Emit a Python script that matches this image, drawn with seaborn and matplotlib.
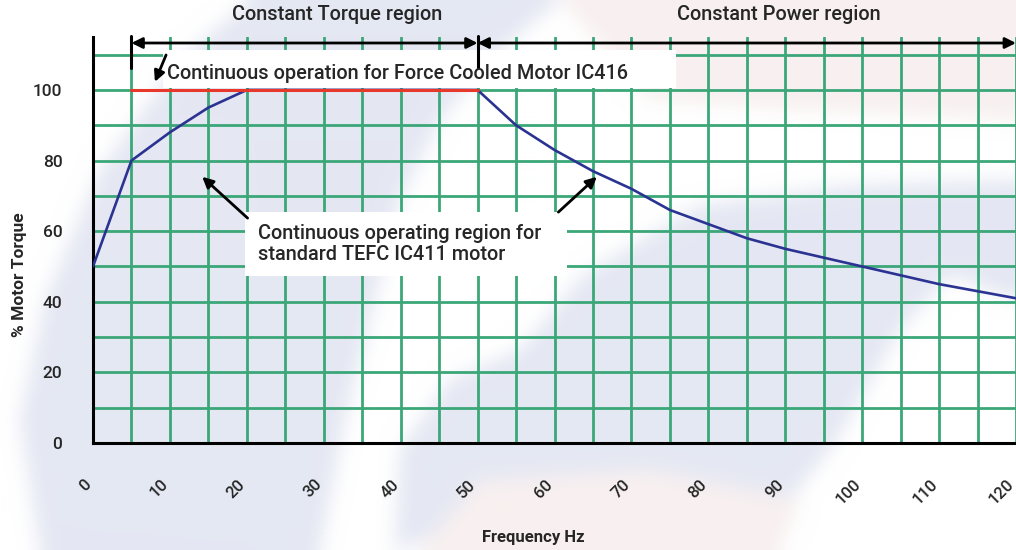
import numpy as np
import matplotlib
matplotlib.use("Agg")
import matplotlib.pyplot as plt
from matplotlib.patches import Rectangle
from matplotlib.path import Path
from matplotlib.transforms import ScaledTranslation
import seaborn as sns

# Motor torque capability versus drive output frequency
freq_hz = [0, 5, 10, 15, 20, 50, 55, 60, 65, 70, 75, 80, 85, 90, 95,
           100, 105, 110, 115, 120]
torque_pct = [50, 80, 88, 95, 100, 100, 90, 83, 77, 72, 66, 62, 58, 55, 52.5,
              50, 47.5, 45, 43, 41]

# Force-cooled (IC416) motor holds full torque over the whole constant-torque band
force_cooled_hz = [5, 50]
force_cooled_pct = [100, 100]

x_ticks = [0, 10, 20, 30, 40, 50, 60, 70, 80, 90, 100, 110, 120]
x_minor = [5, 15, 25, 35, 45, 55, 65, 75, 85, 95, 105, 115]
y_ticks = [0, 20, 40, 60, 80, 100]
y_minor = [10, 30, 50, 70, 90, 110]

torque_region = (5, 50)
power_region = (50, 120)

GREEN = "#3ba778"
BLUE = "#2b3392"
RED = "#e8372b"
LAVENDER = np.array([229, 232, 243]) / 255
PINK = np.array([248, 240, 240]) / 255

W, H = 1016, 550

sns.set_style("white")
plt.rcParams["font.family"] = ["Roboto", "DejaVu Sans"]
plt.rcParams["font.weight"] = "medium"

fig = plt.figure(figsize=(W / 100, H / 100), dpi=100)
fig.patch.set_facecolor("white")

# soft background swoosh behind the plot
def _blur(a, r, axis):
    pad = [(0, 0)] * a.ndim
    pad[axis] = (r + 1, r)
    p = np.pad(a, pad, mode="edge")
    c = np.cumsum(p, axis=axis)
    n = a.shape[axis]
    hi = np.take(c, np.arange(2 * r + 1, 2 * r + 1 + n), axis=axis)
    lo = np.take(c, np.arange(0, n), axis=axis)
    return (hi - lo) / (2 * r + 1)

shapes = [
    ([(40, 550), (20, 420), (45, 300), (100, 170), (180, 60), (250, 0),
      (560, 0), (500, 50), (440, 120), (400, 200), (375, 300), (345, 420),
      (320, 550)], LAVENDER),
    ([(395, 550), (400, 450), (450, 380), (520, 350), (583, 275), (700, 205),
      (850, 185), (1016, 180), (1016, 300), (950, 275), (900, 330),
      (835, 443), (790, 500), (600, 480), (480, 520)], LAVENDER),
    ([(560, 0), (1016, 0), (1016, 120), (800, 110), (650, 100)], PINK),
    ([(420, 550), (480, 480), (650, 470), (800, 500), (780, 550)], PINK),
]
yy, xx = np.mgrid[0:H, 0:W]
pts = np.column_stack([xx.ravel() + 0.5, yy.ravel() + 0.5])
bg = np.ones((H, W, 3))
for poly, col in shapes:
    m = Path(poly).contains_points(pts).reshape(H, W)
    bg[m] = col
for _ in range(2):
    bg = _blur(_blur(bg, 10, 0), 10, 1)
fig.figimage(np.clip(bg, 0, 1), xo=0, yo=0, zorder=-10)

ax = fig.add_axes([93 / W, 1 - 443 / H, (W - 93) / W, 406 / H])
ax.set_zorder(1)
ax.set_facecolor("none")
ax.set_xlim(0, 120)
ax.set_ylim(0, 115)

# white label panels over the grid
ax.add_patch(Rectangle((9.1, 100.6), 66.7, 10.7, facecolor="white",
                       edgecolor="none", zorder=1))
ax.add_patch(Rectangle((19.7, 47.3), 41.9, 18.1, facecolor="white",
                       edgecolor="none", zorder=1))

sns.lineplot(x=freq_hz, y=torque_pct, ax=ax, color=BLUE, linewidth=1.9,
             zorder=4)
sns.lineplot(x=force_cooled_hz, y=force_cooled_pct, ax=ax, color=RED,
             linewidth=2.2, zorder=5)

ax.set_xticks(x_ticks)
ax.set_xticks(x_minor, minor=True)
ax.set_yticks(y_ticks)
ax.set_yticks(y_minor, minor=True)
ax.set_axisbelow(True)
ax.grid(which="both", color=GREEN, linewidth=2.0)
ax.tick_params(axis="both", which="both", direction="out", color="black",
               width=2.2, length=5)
ax.tick_params(axis="y", which="minor", length=0)
ax.tick_params(axis="x", which="major", pad=23)
ax.tick_params(axis="y", which="major", pad=17)
ax.set_xticklabels([str(v) for v in x_ticks], rotation=45, ha="right",
                   va="center", rotation_mode="anchor", fontsize=12)
ax.set_yticklabels([str(v) for v in y_ticks], fontsize=12.5)
shift = ScaledTranslation(-4 / 100, 0, fig.dpi_scale_trans)
for lab in ax.get_xticklabels():
    lab.set_transform(lab.get_transform() + shift)

for s in ("top", "right"):
    ax.spines[s].set_visible(False)
for s in ("left", "bottom"):
    ax.spines[s].set_linewidth(2.2)
    ax.spines[s].set_color("black")

ax.set_xlabel("Frequency Hz", fontsize=12, fontweight="bold")
ax.xaxis.set_label_coords((533 - 93) / (W - 93), -(530 - 443) / 406)
ax.set_ylabel("% Motor Torque", fontsize=12.5, fontweight="bold")
ax.yaxis.set_label_coords((27 - 93) / (W - 93), (443 - 275) / 406)

# region span arrows along the top
arrow_y = 113.3
for (x0, x1) in (torque_region, power_region):
    ax.annotate("", xy=(x1, arrow_y), xytext=(x0, arrow_y),
                arrowprops=dict(arrowstyle="<|-|>", color="black", lw=2.0,
                                mutation_scale=16, shrinkA=0, shrinkB=0),
                annotation_clip=False, zorder=6)
for xb in (torque_region[0], torque_region[1]):
    ax.plot([xb, xb], [106.2, 115.2], color="black", lw=2.2,
            clip_on=False, zorder=6)

ax.text(31.8, 121.5, "Constant Torque region", ha="center", va="center",
        fontsize=14.3, clip_on=False)
ax.text(89.2, 121.5, "Constant Power region", ha="center", va="center",
        fontsize=14.3, clip_on=False)

ax.text(9.6, 104.7, "Continuous operation for Force Cooled Motor IC416",
        ha="left", va="center", fontsize=14.3, zorder=6)
ax.text(21.4, 56.4, "Continuous operating region for\nstandard TEFC IC411 motor",
        ha="left", va="center", fontsize=14.3, linespacing=1.15, zorder=6)

pointer = dict(arrowstyle="-|>", color="black", lw=2.0, mutation_scale=16,
               shrinkA=0, shrinkB=0)
ax.annotate("", xy=(8.05, 102.3), xytext=(9.5, 109.9), arrowprops=pointer,
            zorder=6)
ax.annotate("", xy=(14.2, 75.4), xytext=(20.1, 63.7), arrowprops=pointer,
            zorder=6)
ax.annotate("", xy=(65.5, 75.4), xytext=(60.5, 65.4), arrowprops=pointer,
            zorder=6)

fig.savefig("out.png", dpi=100)
